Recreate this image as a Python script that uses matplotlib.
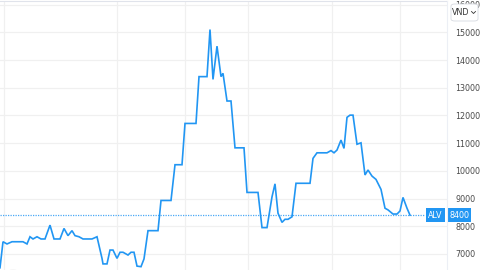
import matplotlib
matplotlib.use("Agg")
import matplotlib.pyplot as plt
from matplotlib.patches import FancyBboxPatch, Circle
import matplotlib.transforms as mtransforms

# ---- data (day index, price in VND) ----
days = [0, 3, 7, 12, 23, 27, 30, 33, 37, 41, 45, 50, 54, 60, 64, 68, 72, 75, 79, 83,
        92, 97, 102, 103, 107, 110, 113, 117, 120, 123, 128, 131, 134, 137, 141, 144,
        148, 158, 161, 171, 175, 182, 185, 196, 199, 207, 210, 213, 217, 221, 223, 227,
        231, 235, 244, 247, 258, 262, 267, 272, 275, 278, 282, 285, 288, 292, 296, 310,
        313, 317, 327, 331, 334, 337, 341, 344, 347, 350, 353, 357, 361, 365, 368, 372,
        376, 381, 385, 388, 393, 397, 400, 403, 407, 410]
prices = [6500, 7440, 7360, 7440, 7440, 7360, 7620, 7540, 7620, 7540, 7540, 8040, 7540, 7540,
          7920, 7660, 7840, 7660, 7620, 7540, 7540, 7620, 6840, 6640, 6640, 7140, 7140, 6840,
          7060, 7060, 6960, 7060, 7060, 6560, 6540, 6820, 7840, 7840, 8930, 8930, 10220, 10220,
          11710, 11710, 13400, 13400, 15100, 13300, 14500, 13400, 13520, 12520, 12520, 10830,
          10830, 9220, 9220, 7950, 7950, 9060, 9530, 8470, 8140, 8250, 8250, 8340, 9550, 9550,
          10450, 10650, 10650, 10730, 10650, 10750, 11110, 10810, 11930, 12010, 12010, 10960,
          11010, 9850, 10030, 9810, 9690, 9330, 8650, 8590, 8440, 8440, 8550, 9040, 8650, 8400]
ticker = "ALV"
last_price = 8400
currency = "VND"
y_ticks = [7000, 8000, 9000, 10000, 11000, 12000, 13000, 14000, 15000, 16000]
month_ticks = [3.5, 117, 185, 248, 332, 400]

BLUE = "#2196F3"
GRID = "#f0f0f0"
TXT = "#4a4a4a"

fig = plt.figure(figsize=(4.8, 2.7), dpi=100)
fig.patch.set_facecolor("white")
ax = fig.add_axes([0, 0, 447/480, 269/270])
ax.set_xlim(0, 447)
ax.set_ylim(6420, 16130)

ax.plot(days, prices, color=BLUE, lw=1.2, solid_joinstyle="miter", zorder=3)

# last price dotted line
ax.plot([0, 425], [last_price, last_price], color="#4aa8f5", lw=0.9, ls=(0, (1.0, 1.0)),
        zorder=2)

ax.set_yticks(y_ticks)
ax.set_yticklabels([str(v) for v in y_ticks])
ax.yaxis.tick_right()
ax.tick_params(axis="y", length=0, pad=6, labelsize=5.8, labelcolor=TXT)
ax.set_xticks(month_ticks)
ax.tick_params(axis="x", length=0, labelbottom=False)
ax.grid(True, color=GRID, lw=0.9)
ax.set_axisbelow(True)
for s in ["left", "bottom", "right"]:
    ax.spines[s].set_visible(False)
ax.spines["top"].set_color("#e0e3eb")
ax.spines["top"].set_linewidth(0.8)

# separator for price scale
fig.add_artist(plt.Line2D([447/480, 447/480], [0, 269/270], color="#eceff5", lw=0.8,
                          transform=fig.transFigure))

trans = mtransforms.blended_transform_factory(ax.transAxes, ax.transData)
ax.text(435.5/447, last_price, ticker, transform=trans, ha="center", va="center",
        fontsize=5.8, color="white", zorder=5, clip_on=False,
        bbox=dict(boxstyle="square,pad=0.3", fc=BLUE, ec="none"))
ax.text(459/447, last_price, str(last_price), transform=trans, ha="center", va="center",
        fontsize=5.8, color="white", zorder=5, clip_on=False,
        bbox=dict(boxstyle="square,pad=0.3", fc=BLUE, ec="none"))

# currency box
box = FancyBboxPatch((451/480, 1 - 21/270), 27/480, 17/270,
                     boxstyle="round,pad=0,rounding_size=0.008",
                     transform=fig.transFigure, fc="white", ec="#d6d9e0", lw=0.6, zorder=10)
fig.add_artist(box)
fig.text(461/480, 1 - 12.5/270, currency, ha="center", va="center", fontsize=5.8,
         color="#333333", zorder=11)
fig.add_artist(plt.Line2D([471.5/480, 473.5/480, 475.5/480], [1 - 11.5/270, 1 - 13.5/270, 1 - 11.5/270],
                          color="#333333", lw=0.6, transform=fig.transFigure, zorder=11))

# faint logo circle
fig.add_artist(Circle((13/480, 1 - 277/270), 12/480, transform=fig.transFigure,
                      fc="none", ec="#e6e6e6", lw=0.8))

fig.savefig("out.png", dpi=100)
